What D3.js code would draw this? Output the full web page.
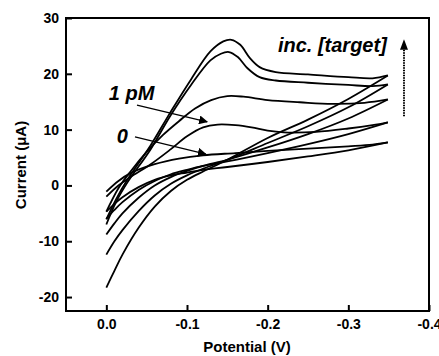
<!DOCTYPE html>
<html>
<head>
<meta charset="utf-8">
<script src="https://cdn.jsdelivr.net/npm/d3@7"></script>
<style>
body{margin:0;background:#fff;}
text{font-family:"Liberation Sans",Arial,Helvetica,sans-serif;font-weight:bold;}
</style>
</head>
<body>
<script>
// potential (V), current (uA), one loop per concentration
var loopNames = ['0','1 pM','c3','c4','c5'];
var fwd0 = [[0,-1.1],[-0.015,0.8],[-0.03,2.2],[-0.06,3.8],[-0.09,4.8],[-0.12,5.4],[-0.16,5.8],[-0.2,6.2],[-0.25,6.6],[-0.3,7],[-0.33,7.3],[-0.349,7.7]];
var rev0 = [[-0.349,7.7],[-0.3,6.3],[-0.25,5.2],[-0.2,4.2],[-0.15,3.3],[-0.12,2.8],[-0.1,2.3],[-0.08,1.8],[-0.06,1],[-0.04,-0.3],[-0.02,-2.1],[-0.01,-3.3],[0,-4.7]];
var fwd1 = [[0,-2],[-0.015,0],[-0.03,1.5],[-0.055,3.8],[-0.08,6.5],[-0.1,8.8],[-0.12,10.4],[-0.138,10.9],[-0.16,10.8],[-0.18,10.4],[-0.2,9.8],[-0.22,9.5],[-0.26,9.6],[-0.3,10.2],[-0.33,10.8],[-0.349,11.3]];
var rev1 = [[-0.349,11.3],[-0.3,9.2],[-0.25,7.4],[-0.2,5.8],[-0.15,4.3],[-0.12,3.5],[-0.1,2.8],[-0.08,2],[-0.06,0.8],[-0.04,-0.8],[-0.02,-3],[-0.01,-4.4],[0,-6]];
var fwd2 = [[0,-4.7],[-0.015,-0.5],[-0.03,2.5],[-0.05,6],[-0.07,9],[-0.09,11.5],[-0.11,13.8],[-0.13,15.3],[-0.15,16],[-0.17,15.9],[-0.2,15.3],[-0.24,14.9],[-0.28,14.6],[-0.32,14.8],[-0.349,15.4]];
var rev2 = [[-0.349,15.4],[-0.3,12],[-0.25,9.2],[-0.2,6.8],[-0.15,4.6],[-0.12,3.5],[-0.1,2.6],[-0.08,1.5],[-0.06,0],[-0.04,-2.2],[-0.02,-5],[-0.01,-6.8],[0,-8.8]];
var fwd3 = [[0,-7],[-0.012,-3],[-0.026,0.5],[-0.055,6.5],[-0.079,12.4],[-0.105,18],[-0.129,22.4],[-0.142,23.6],[-0.152,23.9],[-0.163,23],[-0.175,21],[-0.19,19.4],[-0.21,18.8],[-0.25,18.4],[-0.3,18],[-0.33,17.8],[-0.349,18.1]];
var rev3 = [[-0.349,18.1],[-0.3,14],[-0.25,10.6],[-0.2,7.6],[-0.15,4.6],[-0.12,3],[-0.1,1.8],[-0.08,0.3],[-0.06,-1.8],[-0.04,-4.6],[-0.02,-8],[-0.01,-10],[0,-12.4]];
var fwd4 = [[0,-6.1],[-0.012,-2.5],[-0.026,1],[-0.055,7.2],[-0.079,13],[-0.105,19],[-0.129,24],[-0.145,25.8],[-0.155,26.1],[-0.166,25.2],[-0.178,22.8],[-0.19,21.2],[-0.21,20.3],[-0.25,19.9],[-0.3,19.4],[-0.33,19.2],[-0.349,19.7]];
var rev4 = [[-0.349,19.7],[-0.3,15.5],[-0.25,11.8],[-0.2,8.5],[-0.15,4.6],[-0.12,2.5],[-0.1,1],[-0.08,-1],[-0.06,-3.8],[-0.04,-7.6],[-0.02,-12.4],[-0.01,-15.3],[0,-18.3]];
var branches = [fwd0,rev0,fwd1,rev1,fwd2,rev2,fwd3,rev3,fwd4,rev4];

var xTicks = [0,-0.1,-0.2,-0.3,-0.4];
var yTicks = [-20,-10,0,10,20,30];

var W = 439, H = 356;
var svg = d3.select('body').append('svg').attr('width',W).attr('height',H);

var x = d3.scaleLinear().domain([0.05,-0.4]).range([66,429]);
var y = d3.scaleLinear().domain([-22.5,30]).range([311,18]);

var line = d3.line().x(d=>x(d[0])).y(d=>y(d[1])).curve(d3.curveCatmullRom);

svg.append('g').selectAll('path').data(branches).enter().append('path')
	.attr('d',line)
	.attr('fill','none')
	.attr('stroke','#000')
	.attr('stroke-width',1.8)
	.attr('stroke-linejoin','round');

// frame
svg.append('rect').attr('x',66).attr('y',18).attr('width',363).attr('height',293)
	.attr('fill','none').attr('stroke','#000').attr('stroke-width',2);

var hyph = f => (d => f(d).replace('\u2212','-'));
var xAxis = svg.append('g').attr('transform','translate(0,311)')
	.call(d3.axisBottom(x).tickValues(xTicks).tickSizeInner(-6).tickSizeOuter(0).tickPadding(8).tickFormat(hyph(d3.format('.1f'))));
var yAxis = svg.append('g').attr('transform','translate(66,0)')
	.call(d3.axisLeft(y).tickValues(yTicks).tickSizeInner(-6).tickSizeOuter(0).tickPadding(7).tickFormat(hyph(d3.format('d'))));
[xAxis,yAxis].forEach(function(a){
	a.select('.domain').remove();
	a.selectAll('line').attr('stroke','#000').attr('stroke-width',2);
	a.selectAll('text').attr('font-size',14).attr('font-family','"Liberation Sans",Arial,sans-serif').attr('font-weight','bold').attr('fill','#000');
});

svg.append('text').attr('x',247).attr('y',352).attr('text-anchor','middle')
	.attr('font-size',15).text('Potential (V)');
svg.append('text').attr('transform','translate(26,165) rotate(-90)').attr('text-anchor','middle')
	.attr('font-size',15).text('Current (μA)');

// annotations
var defs = svg.append('defs');
defs.append('marker').attr('id','ah').attr('viewBox','0 0 10 10').attr('refX',9).attr('refY',5)
	.attr('markerWidth',9).attr('markerHeight',9).attr('markerUnits','userSpaceOnUse').attr('orient','auto')
	.append('path').attr('d','M0,0L10,5L0,10Z').attr('fill','#000');

svg.append('text').attr('x',x(-0.003)).attr('y',y(15.3)).attr('font-size',20).attr('font-style','italic').text('1 pM');
svg.append('line').attr('x1',x(-0.038)).attr('y1',y(14.4)).attr('x2',x(-0.125)).attr('y2',y(11.4))
	.attr('stroke','#000').attr('stroke-width',1.3).attr('marker-end','url(#ah)');
svg.append('text').attr('x',x(-0.013)).attr('y',y(7.6)).attr('font-size',20).attr('font-style','italic').text('0');
svg.append('line').attr('x1',x(-0.0355)).attr('y1',y(8.7)).attr('x2',x(-0.1235)).attr('y2',y(5.6))
	.attr('stroke','#000').attr('stroke-width',1.3).attr('marker-end','url(#ah)');

svg.append('text').attr('x',x(-0.2127)).attr('y',y(23.9)).attr('font-size',20).attr('font-style','italic').text('inc. [target]');
svg.append('line').attr('x1',x(-0.369)).attr('y1',y(12.4)).attr('x2',x(-0.369)).attr('y2',y(24.4))
	.attr('stroke','#000').attr('stroke-width',2).attr('stroke-dasharray','1.5,1');
svg.append('path').attr('d','M'+(x(-0.369)-4)+','+y(24.3)+'L'+x(-0.369)+','+y(26.2)+'L'+(x(-0.369)+4)+','+y(24.3)+'Z').attr('fill','#000');
</script>
</body>
</html>
